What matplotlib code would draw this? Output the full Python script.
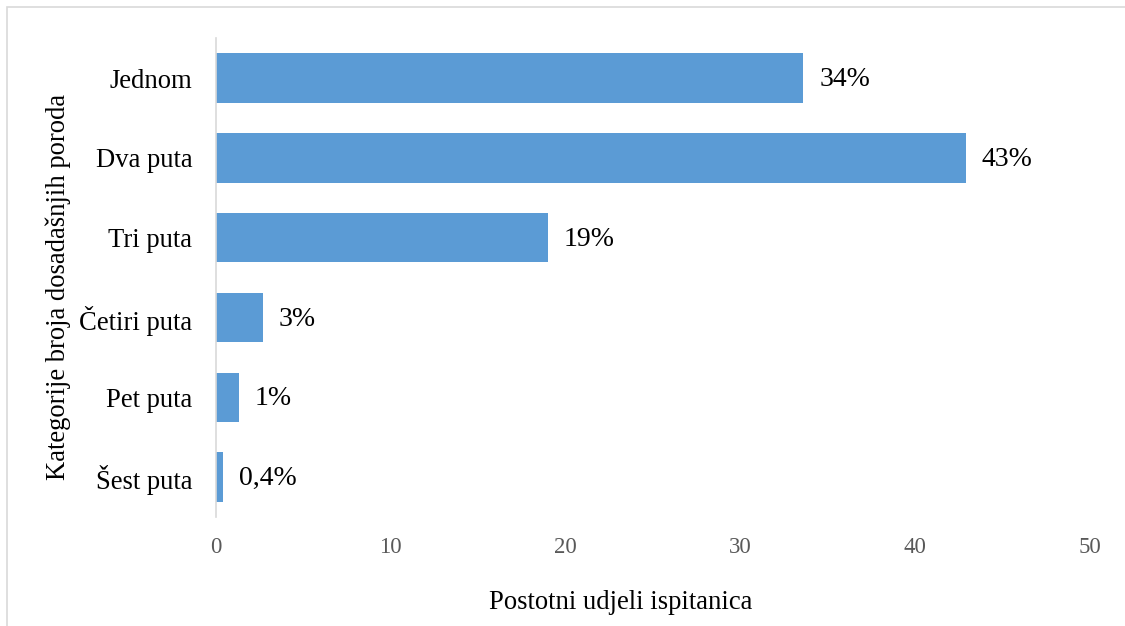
import matplotlib.pyplot as plt
from matplotlib.patches import Rectangle

plt.rcParams['font.family'] = ['Liberation Serif', 'DejaVu Serif']

categories = ["Jednom", "Dva puta", "Tri puta", "Četiri puta", "Pet puta", "Šest puta"]
values = [33.6, 42.9, 19.0, 2.7, 1.3, 0.4]
value_labels = ["34%", "43%", "19%", "3%", "1%", "0,4%"]
x_ticks = [0, 10, 20, 30, 40, 50]

BAR_COLOR = "#5B9BD5"

fig = plt.figure(figsize=(11.25, 6.26), dpi=100)
ax = fig.add_axes([0.192, 0.174, 0.777, 0.765])

# okvir oko grafikona
fig.patches.append(Rectangle((0.0062, -0.05), 1.1, 1.039, transform=fig.transFigure,
                             fill=False, edgecolor="#D9D9D9", lw=1.2))

y = list(range(len(categories)))
ax.barh(y, values, height=0.62, color=BAR_COLOR)
for yi, v, lab in zip(y, values, value_labels):
    ax.text(v + 0.9, yi + 0.02, lab, va="center", ha="left", fontsize=20, color="#000000")

ax.set_ylim(len(categories) - 0.5, -0.5)
ax.set_xlim(0, 50)
ax.set_yticks(y)
ax.set_yticklabels(categories, fontsize=19.2)
ax.set_xticks(x_ticks)
ax.set_xticklabels([str(t) for t in x_ticks], fontsize=16.5, color="#595959")
ax.tick_params(axis="y", length=0, pad=17)
ax.tick_params(axis="x", length=0, pad=14)

for s in ["top", "right", "bottom"]:
    ax.spines[s].set_visible(False)
ax.spines["left"].set_color("#D9D9D9")
ax.spines["left"].set_linewidth(1.2)

ax.set_xlabel("Postotni udjeli ispitanica", fontsize=19.2)
ax.set_ylabel("Kategorije broja dosadašnjih poroda", fontsize=19.2)
ax.xaxis.set_label_coords(0.463, -0.152)
ax.yaxis.set_label_coords(-0.166, 0.481)

fig.savefig("out.png", dpi=100)
